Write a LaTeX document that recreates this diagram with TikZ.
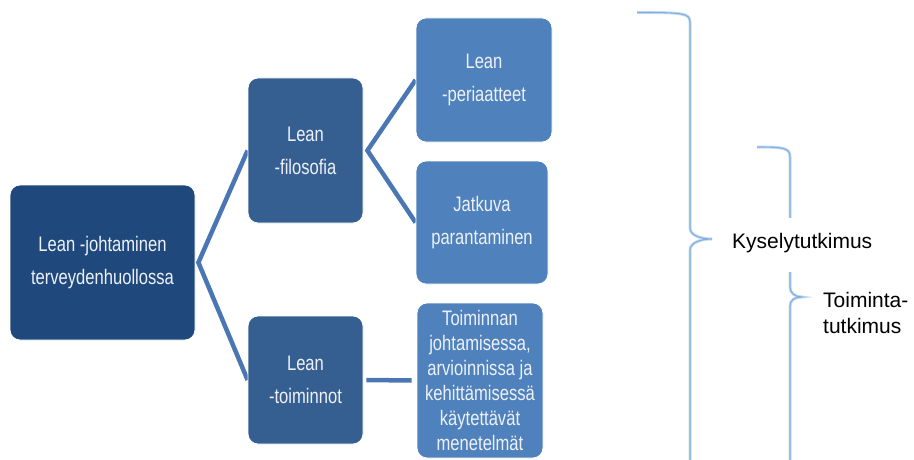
\documentclass[tikz,border=0pt]{standalone}
\usepackage{fontspec}
\setmainfont{Liberation Sans}
\newfontfamily\narrowsans[FakeStretch=0.79]{Liberation Sans}
\usetikzlibrary{calc,backgrounds}

\definecolor{rootblue}{HTML}{1F497D}
\definecolor{midblue}{HTML}{365F91}
\definecolor{leafblue}{HTML}{4F81BD}
\definecolor{linkblue}{HTML}{4A76B4}
\definecolor{boxtext}{HTML}{EDF1F7}
\definecolor{bracelight}{HTML}{C5DCF2}
\definecolor{bracedark}{HTML}{82ADDF}

\tikzset{
  box/.style={rectangle, rounded corners=10pt, draw=white, line width=0.8pt,
    text=boxtext, align=center, inner sep=0pt,
    font=\narrowsans\fontsize{21}{33}\selectfont},
  link/.style={draw=linkblue, line width=4.5pt},
  bracestroke/.style={line width=3pt, draw=bracelight},
  bracecore/.style={line width=1.1pt, draw=bracedark},
  label/.style={inner sep=0pt, font=\fontsize{21}{26}\selectfont, align=left}
}

\begin{document}
\begin{tikzpicture}[x=1pt,y=-1pt]
\useasboundingbox (0,0) rectangle (914,460);
\clip (0,0) rectangle (914,460);

% hierarchy boxes
\node[box, fill=rootblue, minimum width=185pt, minimum height=155pt] (root) at (102.5,262.5)
  {Lean -johtaminen\\terveydenhuollossa};
\node[box, fill=midblue, minimum width=115pt, minimum height=145pt] (filo) at (305.5,150.5)
  {Lean\\-filosofia};
\node[box, fill=midblue, minimum width=115pt, minimum height=128pt] (toim) at (305.5,380)
  {Lean\\-toiminnot};
\node[box, fill=leafblue, minimum width=136pt, minimum height=124pt] (peri) at (484,80)
  {Lean\\-periaatteet};
\node[box, fill=leafblue, minimum width=132pt, minimum height=123pt] (jatk) at (482,222.5)
  {Jatkuva\\parantaminen};
\node[box, fill=leafblue, minimum width=126pt, minimum height=155pt,
      font=\narrowsans\fontsize{21}{25}\selectfont] (mene) at (480,380.5)
  {Toiminnan\\johtamisessa,\\arvioinnissa ja\\kehittämisessä\\käytettävät\\menetelmät};

% connectors
\coordinate (jroot) at ($(root.east)+(3,0)$);
\coordinate (jfilo) at ($(filo.east)+(4,0)$);
\coordinate (jtoim) at ($(toim.east)+(3,0)$);
\coordinate (emene) at ($(mene.west)+(-5,0)$);
\begin{pgfonlayer}{background}
  \draw[link] (filo.west) -- (jroot) -- (toim.west);
  \draw[link] (peri.west) -- (jfilo) -- (jatk.west);
  \draw[link] (jtoim) -- (emene);
\end{pgfonlayer}

% large brace
\foreach \st in {bracestroke,bracecore}{
  \draw[\st] (637,12.5) .. controls (682,12.5) and (690,13) .. (690,22)
    -- (690,228) .. controls (690,235) and (700,239) .. (712,239)
    .. controls (700,239) and (690,243) .. (690,250) -- (690,470);
}
% small brace
\foreach \st in {bracestroke,bracecore}{
  \draw[\st] (757,147) .. controls (784,147) and (790,148) .. (790,157)
    -- (790,287) .. controls (790,293) and (795,297) .. (802,297)
    .. controls (795,297) and (790,300) .. (790,306) -- (790,470);
}

% brace labels
\node[label, fill=white, anchor=base west, text height=30pt, text depth=24pt,
      inner xsep=4pt] (kysely) at (728,248) {Kyselytutkimus};
\node[label, anchor=north west] (toiminta) at (823,292) {Toiminta-\\tutkimus};
\end{tikzpicture}
\end{document}
